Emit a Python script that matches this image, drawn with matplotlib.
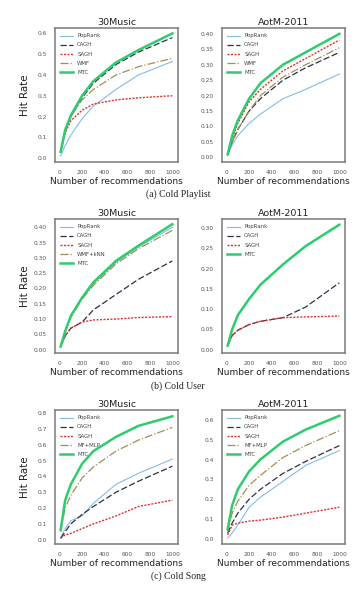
import matplotlib
matplotlib.use("Agg")
import matplotlib.pyplot as plt

# number of recommendations (x positions of the measured points)
n_recs = [10, 50, 100, 200, 300, 500, 700, 1000]

# (a) Cold Playlist
pl_30m = {
    "PopRank": [0.01, 0.06, 0.11, 0.19, 0.25, 0.33, 0.40, 0.465],
    "CAGH": [0.03, 0.13, 0.20, 0.29, 0.36, 0.45, 0.51, 0.58],
    "SAGH": [0.03, 0.12, 0.18, 0.23, 0.26, 0.28, 0.29, 0.30],
    "WMF": [0.03, 0.13, 0.20, 0.28, 0.33, 0.40, 0.44, 0.48],
    "MTC": [0.03, 0.135, 0.205, 0.30, 0.37, 0.46, 0.52, 0.60],
}
pl_aotm = {
    "PopRank": [0.005, 0.04, 0.07, 0.11, 0.14, 0.19, 0.22, 0.27],
    "CAGH": [0.01, 0.05, 0.09, 0.15, 0.19, 0.25, 0.29, 0.34],
    "SAGH": [0.01, 0.06, 0.11, 0.18, 0.22, 0.28, 0.32, 0.38],
    "WMF": [0.01, 0.05, 0.09, 0.15, 0.20, 0.26, 0.30, 0.355],
    "MTC": [0.01, 0.07, 0.12, 0.19, 0.24, 0.30, 0.34, 0.40],
}

# (b) Cold User
us_30m = {
    "PopRank": [0.01, 0.06, 0.11, 0.17, 0.215, 0.285, 0.335, 0.40],
    "CAGH": [0.01, 0.045, 0.07, 0.09, 0.13, 0.18, 0.23, 0.29],
    "SAGH": [0.01, 0.045, 0.07, 0.09, 0.097, 0.10, 0.105, 0.108],
    "WMF+kNN": [0.01, 0.06, 0.105, 0.165, 0.21, 0.28, 0.33, 0.39],
    "MTC": [0.01, 0.06, 0.11, 0.17, 0.22, 0.29, 0.34, 0.41],
}
us_aotm = {
    "PopRank": [0.01, 0.05, 0.085, 0.125, 0.16, 0.21, 0.255, 0.308],
    "CAGH": [0.01, 0.035, 0.048, 0.062, 0.07, 0.079, 0.105, 0.165],
    "SAGH": [0.01, 0.035, 0.048, 0.062, 0.07, 0.079, 0.081, 0.083],
    "MTC": [0.01, 0.05, 0.085, 0.125, 0.16, 0.21, 0.255, 0.308],
}

# (c) Cold Song
so_30m = {
    "PopRank": [0.01, 0.07, 0.12, 0.15, 0.23, 0.35, 0.42, 0.51],
    "CAGH": [0.01, 0.05, 0.10, 0.16, 0.21, 0.30, 0.37, 0.465],
    "SAGH": [0.01, 0.03, 0.04, 0.07, 0.10, 0.15, 0.21, 0.25],
    "MF+MLP": [0.06, 0.20, 0.28, 0.39, 0.46, 0.56, 0.63, 0.71],
    "MTC": [0.06, 0.25, 0.35, 0.48, 0.56, 0.65, 0.72, 0.78],
}
so_aotm = {
    "PopRank": [0.005, 0.03, 0.07, 0.16, 0.21, 0.29, 0.37, 0.445],
    "CAGH": [0.03, 0.08, 0.13, 0.20, 0.25, 0.33, 0.39, 0.47],
    "SAGH": [0.02, 0.07, 0.08, 0.09, 0.095, 0.11, 0.13, 0.16],
    "MF+MLP": [0.04, 0.13, 0.19, 0.27, 0.32, 0.41, 0.47, 0.545],
    "MTC": [0.05, 0.17, 0.25, 0.34, 0.40, 0.49, 0.55, 0.62],
}

captions = ["(a) Cold Playlist", "(b) Cold User", "(c) Cold Song"]

styles = {
    "PopRank": dict(color="#82bde6", ls="-", lw=0.8),
    "CAGH": dict(color="#2d3047", ls=(0, (5, 2)), lw=0.9),
    "SAGH": dict(color="#e0322c", ls=(0, (1.5, 1)), lw=1.0),
    "other": dict(color="#a38f52", ls="-.", lw=0.9),
    "MTC": dict(color="#2fcc6e", ls="-", lw=1.8),
}

rows = [
    (pl_30m, pl_aotm, (-0.019, 0.626), (-0.015, 0.419),
     [0, 0.1, 0.2, 0.3, 0.4, 0.5, 0.6], [0, 0.05, 0.1, 0.15, 0.2, 0.25, 0.3, 0.35, 0.4]),
    (us_30m, us_aotm, (-0.011, 0.427), (-0.008, 0.322),
     [0, 0.05, 0.1, 0.15, 0.2, 0.25, 0.3, 0.35, 0.4], [0, 0.05, 0.1, 0.15, 0.2, 0.25, 0.3]),
    (so_30m, so_aotm, (-0.027, 0.82), (-0.025, 0.649),
     [0, 0.1, 0.2, 0.3, 0.4, 0.5, 0.6, 0.7, 0.8], [0, 0.1, 0.2, 0.3, 0.4, 0.5, 0.6]),
]

fig = plt.figure(figsize=(3.56, 5.91), dpi=100)
W, H = 356, 591
ax_h = 134
tops = [28, 219, 410]
lefts = [55, 222]
ax_w = 123
caption_y = [194, 386, 576]


def draw(ax, data, ylim, yticks, title, first):
    for name, vals in data.items():
        st = styles.get(name, styles["other"])
        ax.plot(n_recs, vals, label=name, **st)
    ax.set_xlim(-40, 1050)
    ax.set_ylim(*ylim)
    ax.set_xticks([0, 200, 400, 600, 800, 1000])
    ax.set_yticks(yticks)
    fmt = "%.2f" if yticks[1] == 0.05 else "%.1f"
    ax.set_yticklabels([fmt % t for t in yticks])
    ax.tick_params(length=0, labelsize=4.2, labelcolor="#555555", pad=6)
    for sp in ax.spines.values():
        sp.set_color("#7a7a7a")
        sp.set_linewidth(1.1)
    ax.set_title(title, fontsize=6.8, pad=2.5, color="#222222")
    ax.set_xlabel("Number of recommendations", fontsize=6.5, labelpad=1, color="#222222")
    if first:
        ax.set_ylabel("Hit Rate", fontsize=7.4, color="#222222")
        ax.yaxis.set_label_coords(-0.205, 0.5)
    ax.legend(loc="upper left", fontsize=3.9, frameon=False, handlelength=2.3,
              borderaxespad=0.6, labelspacing=0.75, handletextpad=0.8,
              labelcolor="#444444")


for i, (d1, d2, yl1, yl2, yt1, yt2) in enumerate(rows):
    bottom = 1 - (tops[i] + ax_h) / H
    ax1 = fig.add_axes([lefts[0] / W, bottom, ax_w / W, ax_h / H])
    ax2 = fig.add_axes([lefts[1] / W, bottom, ax_w / W, ax_h / H])
    draw(ax1, d1, yl1, yt1, "30Music", True)
    draw(ax2, d2, yl2, yt2, "AotM-2011", False)
    fig.text(0.5, 1 - caption_y[i] / H, captions[i], ha="center", va="center",
             fontsize=7, family="Liberation Serif", color="#222222")

fig.savefig("out.png", dpi=100)
